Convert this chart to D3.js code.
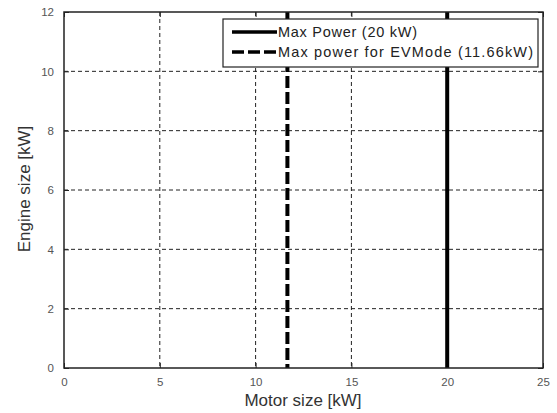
<!DOCTYPE html>
<html>
<head>
<meta charset="utf-8">
<script src="https://cdn.jsdelivr.net/npm/d3@7"></script>
<style>
  body { margin: 0; background: #fff; }
</style>
</head>
<body>
<div id="app"></div>
<script>
// data
const xTicks = [0, 5, 10, 15, 20, 25];
const yTicks = [0, 2, 4, 6, 8, 10, 12];
const seriesNames = ["Max Power (20 kW)", "Max power  for EVMode (11.66kW)"];
const seriesValues = [20, 11.66];
const seriesDash = [null, "12,4"];

const width = 557, height = 413;
const marginTop = 12, marginRight = 14, marginBottom = 45, marginLeft = 64;

const x = d3.scaleLinear().domain([0, 25]).range([marginLeft, width - marginRight]);
const y = d3.scaleLinear().domain([0, 12]).range([height - marginBottom, marginTop]);

const svg = d3.select("#app").append("svg")
  .attr("width", width).attr("height", height)
  .style("font-family", "Arial, 'Liberation Sans', sans-serif");

// 网格
svg.append("g")
  .attr("stroke", "#222").attr("stroke-width", 1).attr("stroke-dasharray", "4,3")
  .call(g => g.selectAll(".vx").data(xTicks.slice(1, -1)).join("line")
    .attr("x1", d => x(d)).attr("x2", d => x(d))
    .attr("y1", y(12)).attr("y2", y(0)))
  .call(g => g.selectAll(".hy").data(yTicks.slice(1, -1)).join("line")
    .attr("x1", x(0)).attr("x2", x(25))
    .attr("y1", d => y(d)).attr("y2", d => y(d)));

// 坐标轴 (inside ticks, all four sides)
const tickColor = "#555";
svg.append("g").attr("transform", `translate(0,${y(0)})`)
  .call(d3.axisBottom(x).tickValues(xTicks).tickSize(-5).tickPadding(10).tickSizeOuter(0))
  .call(g => g.select(".domain").remove())
  .call(g => g.selectAll("text").attr("fill", tickColor).attr("font-size", 11.5))
  .call(g => g.selectAll("line").attr("stroke", "#222"));
svg.append("g").attr("transform", `translate(0,${y(12)})`)
  .call(d3.axisTop(x).tickValues(xTicks).tickSize(-5).tickFormat("").tickSizeOuter(0))
  .call(g => g.select(".domain").remove())
  .call(g => g.selectAll("line").attr("stroke", "#222"));
svg.append("g").attr("transform", `translate(${x(0)},0)`)
  .call(d3.axisLeft(y).tickValues(yTicks).tickSize(-5).tickPadding(10).tickSizeOuter(0))
  .call(g => g.select(".domain").remove())
  .call(g => g.selectAll("text").attr("fill", tickColor).attr("font-size", 11.5))
  .call(g => g.selectAll("line").attr("stroke", "#222"));
svg.append("g").attr("transform", `translate(${x(25)},0)`)
  .call(d3.axisRight(y).tickValues(yTicks).tickSize(-5).tickFormat("").tickSizeOuter(0))
  .call(g => g.select(".domain").remove())
  .call(g => g.selectAll("line").attr("stroke", "#222"));

// 数据线
svg.append("g").selectAll("line").data(seriesValues).join("line")
  .attr("x1", d => x(d)).attr("x2", d => x(d))
  .attr("y1", y(12)).attr("y2", y(0))
  .attr("stroke", "#000").attr("stroke-width", 4)
  .attr("stroke-dasharray", (d, i) => seriesDash[i]);

// frame
svg.append("rect")
  .attr("x", x(0)).attr("y", y(12))
  .attr("width", x(25) - x(0)).attr("height", y(0) - y(12))
  .attr("fill", "none").attr("stroke", "#222").attr("stroke-width", 1.5);

// 图例
const legend = svg.append("g");
legend.append("rect")
  .attr("x", 223).attr("y", 19).attr("width", 315).attr("height", 48)
  .attr("fill", "#fff").attr("stroke", "#222").attr("stroke-width", 1.2);
const textLens = [139, 255];
seriesNames.forEach((name, i) => {
  const ly = 32 + i * 20;
  legend.append("line")
    .attr("x1", 232).attr("x2", 277).attr("y1", ly).attr("y2", ly)
    .attr("stroke", "#000").attr("stroke-width", 3.5)
    .attr("stroke-dasharray", seriesDash[i]);
  legend.append("text")
    .attr("x", 278).attr("y", ly).attr("dy", "0.35em")
    .attr("font-size", 14.5).attr("fill", "#222")
    .attr("textLength", textLens[i]).attr("lengthAdjust", "spacing")
    .text(name);
});

// 轴标题
svg.append("text")
  .attr("x", 303).attr("y", 406)
  .attr("text-anchor", "middle").attr("font-size", 17).attr("fill", "#333")
  .text("Motor size [kW]");
svg.append("text")
  .attr("transform", `translate(30,189) rotate(-90)`)
  .attr("text-anchor", "middle").attr("font-size", 17).attr("fill", "#333")
  .text("Engine size [kW]");
</script>
</body>
</html>
